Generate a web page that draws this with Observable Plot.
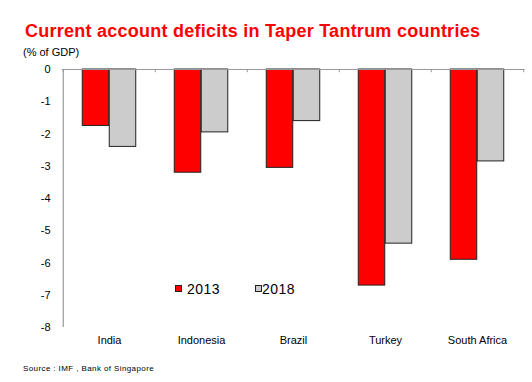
<!DOCTYPE html>
<html><head><meta charset="utf-8">
<script src="https://cdn.jsdelivr.net/npm/d3@7"></script>
<script src="https://cdn.jsdelivr.net/npm/@observablehq/plot@0.6"></script>
<style>
body{margin:0;background:#fff;}
#wrap{position:relative;width:532px;height:382px;font-family:"Liberation Sans",Arial,sans-serif;overflow:hidden;}
#wrap svg{position:absolute;left:0;top:0;}
.txt{position:absolute;line-height:1;white-space:nowrap;}
#title{left:25px;top:21.5px;font-size:18px;font-weight:bold;color:#ff0000;letter-spacing:0.25px;}
#sub{left:23px;top:47px;font-size:11px;color:#000;}
#source{left:23px;top:365px;font-size:8px;color:#000;letter-spacing:0.4px;}
.sw{position:absolute;width:7px;height:7px;box-sizing:border-box;border:1px solid #222;}
.lg{font-size:14px;color:#000;letter-spacing:0.5px;}
</style></head>
<body>
<div id="wrap">
  <div id="chart"></div>
  <div class="txt" id="title">Current account deficits in Taper Tantrum countries</div>
  <div class="txt" id="sub">(% of GDP)</div>
  <div class="sw" style="left:175px;top:285px;background:#ff0000"></div>
  <div class="txt lg" style="left:187px;top:282px">2013</div>
  <div class="sw" style="left:255px;top:285px;background:#cccccc"></div>
  <div class="txt lg" style="left:262px;top:282px">2018</div>
  <div class="txt" id="source">Source : IMF , Bank of Singapore</div>
</div>
<script>
const countries = ["India", "Indonesia", "Brazil", "Turkey", "South Africa"];
const values2013 = [-1.75, -3.2, -3.05, -6.7, -5.9];
const values2018 = [-2.4, -1.95, -1.6, -5.4, -2.85];
const yTicks = [0, -1, -2, -3, -4, -5, -6, -7, -8];

const rows2013 = countries.map((c, i) => ({country: c, value: values2013[i]}));
const rows2018 = countries.map((c, i) => ({country: c, value: values2018[i]}));

const W = 532, H = 382, mL = 62, mR = 7.5;
const half = (W - mL - mR) / countries.length / 2;
const barW = 27;

const chart = Plot.plot({
  width: W,
  height: H,
  marginTop: 69,
  marginBottom: 55,
  marginLeft: mL,
  marginRight: mR,
  style: {fontFamily: "'Liberation Sans', Arial, sans-serif", fontSize: "11px", color: "#000", background: "transparent"},
  x: {domain: countries, padding: 0, label: null},
  y: {domain: [-8, 0], label: null},
  marks: [
    Plot.barY(rows2013, {x: "country", y: "value", fill: "#ff0000", stroke: "#222", strokeWidth: 1,
      insetLeft: half - barW, insetRight: half}),
    Plot.barY(rows2018, {x: "country", y: "value", fill: "#cccccc", stroke: "#222", strokeWidth: 1,
      insetLeft: half, insetRight: half - barW}),
    Plot.ruleY([0], {stroke: "#999", strokeWidth: 1.2}),
    Plot.ruleX(countries, {x: d => d, y1: 0, y2: -0.1, stroke: "#999", dx: -half}),
    Plot.ruleX(countries.slice(-1), {x: d => d, y1: 0, y2: -0.1, stroke: "#999", dx: half}),
    Plot.ruleX(countries.slice(0, 1), {x: d => d, y1: 0, y2: -8, stroke: "#999", strokeWidth: 1.2, dx: -half}),
    Plot.axisY({ticks: yTicks, tickSize: 0, tickPadding: 12, tickFormat: d => String(d), fontSize: 11}),
    Plot.axisX({tickSize: 0, tickPadding: 9, fontSize: 11})
  ]
});
document.getElementById("chart").appendChild(chart);
</script>
</body></html>
